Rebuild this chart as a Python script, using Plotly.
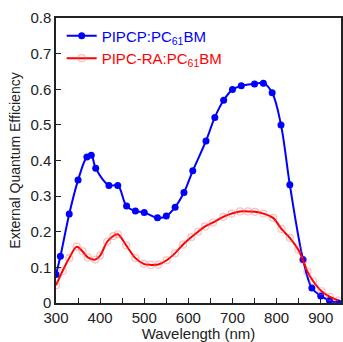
import plotly.graph_objects as go

# Blue series: PIPCP:PC61BM
wl_blue = [300, 310, 330, 350, 370, 380, 390, 420, 440, 460, 480, 500, 530, 550, 570,
           590, 610, 640, 660, 680, 700, 720, 750, 770, 790, 810, 830, 860, 880, 900, 920, 940]
eqe_blue = [0.08, 0.131, 0.25, 0.345, 0.41, 0.415, 0.378, 0.33, 0.33, 0.272, 0.258, 0.254,
            0.239, 0.244, 0.269, 0.31, 0.371, 0.455, 0.521, 0.569, 0.599, 0.61, 0.615, 0.617,
            0.59, 0.5, 0.332, 0.122, 0.042, 0.02, 0.007, 0.0]

# Red series: PIPC-RA:PC61BM
wl_red = [300, 315, 330, 347, 360, 372, 389, 400, 416, 430, 440, 459, 480, 499, 515, 532,
          551, 570, 588, 607, 622, 638, 656, 679, 698, 717, 735, 751, 770, 792, 811, 830,
          849, 860, 870, 883, 902, 921, 940]
eqe_red = [0.05, 0.09, 0.126, 0.158, 0.145, 0.128, 0.122, 0.133, 0.172, 0.188, 0.193, 0.162,
           0.126, 0.11, 0.107, 0.108, 0.12, 0.14, 0.164, 0.185, 0.2, 0.215, 0.226, 0.242,
           0.251, 0.257, 0.257, 0.256, 0.251, 0.239, 0.208, 0.183, 0.15, 0.12, 0.088, 0.061,
           0.033, 0.017, 0.007]

x_ticks = [300, 400, 500, 600, 700, 800, 900]
y_ticks = [0, 0.1, 0.2, 0.3, 0.4, 0.5, 0.6, 0.7, 0.8]
y_tick_labels = ["0", "0.1", "0.2", "0.3", "0.4", "0.5", "0.6", "0.7", "0.8"]

FONT = "Liberation Sans, Arial, sans-serif"

fig = go.Figure()
fig.add_trace(go.Scatter(
    x=wl_blue, y=eqe_blue, mode="lines+markers",
    name="<span style='color:#0000ff'>PIPCP:PC<sub>61</sub>BM</span>",
    line=dict(color="#0000ff", width=2, shape="spline", smoothing=1.0),
    marker=dict(symbol="circle", size=7, color="#0000ff"),
))
fig.add_trace(go.Scatter(
    x=wl_red, y=eqe_red, mode="lines+markers",
    name="<span style='color:#ff0000'>PIPC-RA:PC<sub>61</sub>BM</span>",
    line=dict(color="#ff0000", width=2, shape="spline", smoothing=1.0),
    marker=dict(symbol="circle-open", size=7, color="rgba(255,90,90,0.4)",
                line=dict(width=1.2)),
))

fig.update_layout(
    width=343, height=342,
    margin=dict(l=56, r=1.5, t=18, b=39),
    paper_bgcolor="white", plot_bgcolor="white",
    font=dict(family=FONT, size=15, color="#222222"),
    showlegend=True,
    legend=dict(x=0.02, y=0.995, xanchor="left", yanchor="top",
                bgcolor="rgba(0,0,0,0)", font=dict(size=15, family=FONT),
                itemwidth=30, tracegroupgap=0),
    xaxis=dict(
        range=[300, 946], tickmode="array", tickvals=x_ticks,
        ticks="inside", ticklen=5, tickwidth=1.2, tickcolor="#222222",
        minor=dict(dtick=50, tick0=300, ticks="inside", ticklen=5, tickwidth=1.2, tickcolor="#222222"),
        showline=True, linecolor="#222222", linewidth=1.5, mirror=True,
        showgrid=False, zeroline=False,
        title=dict(text="Wavelength (nm)", font=dict(size=15), standoff=4),
        tickfont=dict(size=15),
    ),
    yaxis=dict(
        range=[0, 0.8], tickmode="array", tickvals=y_ticks, ticktext=y_tick_labels,
        ticks="inside", ticklen=5, tickwidth=1.2, tickcolor="#222222",
        showline=True, linecolor="#222222", linewidth=1.5, mirror=True,
        showgrid=False, zeroline=False,
        title=dict(text="External Quantum Efficiency", font=dict(size=14), standoff=6),
        tickfont=dict(size=15),
    ),
)

fig.write_html("out.html", config={"displayModeBar": False},
               post_script="document.body.style.margin='0';document.body.style.padding='0';")
